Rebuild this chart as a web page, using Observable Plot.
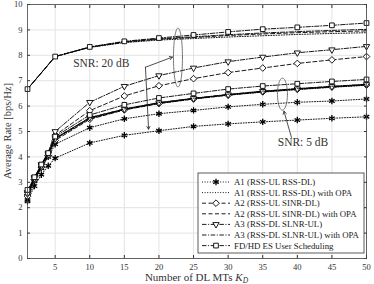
<!DOCTYPE html>
<html><head><meta charset="utf-8">
<script src="https://cdn.jsdelivr.net/npm/d3@7"></script>
<script src="https://cdn.jsdelivr.net/npm/@observablehq/plot@0.6"></script>
<style>body{margin:0;background:#fff} svg text{font-family:"Liberation Serif","Times New Roman",Times,"DejaVu Serif",serif !important}</style>
</head><body><div id="chart"></div>
<script>
// ---- data ----
const xDense  = [1,2,3,4,5,10,15,20,25,30,35,40,45,50];
const xSparse = [1,5,10,15,20,25,30,35,40,45,50];
const xTicks = [5,10,15,20,25,30,35,40,45,50];
const yTicks = [0,1,2,3,4,5,6,7,8,9,10];

// SNR 20 dB
const a1_20    = [2.25,2.85,3.3,3.65,3.95,4.55,4.85,5.03,5.2,5.3,5.38,5.45,5.52,5.58];
const a2_20    = [2.5,3.1,3.6,4.05,4.85,5.82,6.4,6.8,7.08,7.32,7.5,7.68,7.82,7.95];
const a3_20    = [2.6,3.2,3.7,4.15,5.0,6.15,6.78,7.2,7.5,7.75,7.93,8.1,8.22,8.35];
const fd_20    = [6.67,7.95,8.33,8.55,8.68,8.8,8.92,9.03,9.1,9.18,9.27];
const a1opa_20 = [6.67,7.95,8.31,8.5,8.6,8.66,8.72,8.77,8.82,8.86,8.89];
const a2opa_20 = [6.67,7.95,8.32,8.52,8.63,8.7,8.78,8.84,8.89,8.93,8.96];
const a3opa_20 = [6.67,7.95,8.32,8.53,8.65,8.73,8.81,8.88,8.93,8.98,9.02];
// SNR 5 dB
const a1_5     = [2.3,3.05,3.55,4.0,4.5,5.15,5.5,5.7,5.83,5.97,6.07,6.15,6.2,6.28];
const a2_5     = [2.45,3.1,3.6,4.05,4.65,5.48,5.85,6.1,6.28,6.43,6.56,6.66,6.75,6.83];
const a3_5     = [2.55,3.15,3.65,4.1,4.72,5.55,5.88,6.13,6.3,6.45,6.58,6.68,6.77,6.85];
const fd_5     = [2.7,3.2,3.7,4.15,4.8,5.65,6.05,6.32,6.5,6.67,6.79,6.88,6.97,7.05];
const a1opa_5  = [2.6,4.7,5.5,5.86,6.1,6.28,6.43,6.55,6.65,6.74,6.82];
const a2opa_5  = [2.6,4.72,5.52,5.87,6.12,6.3,6.45,6.57,6.67,6.76,6.84];
const a3opa_5  = [2.62,4.74,5.54,5.89,6.14,6.31,6.46,6.59,6.69,6.78,6.86];

const legendLabels = [
  "A1 (RSS-UL RSS-DL)",
  "A1 (RSS-UL RSS-DL) with OPA",
  "A2 (RSS-UL SINR-DL)",
  "A2 (RSS-UL SINR-DL) with OPA",
  "A3 (RSS-DL SLNR-UL)",
  "A3 (RSS-DL SLNR-UL) with OPA",
  "FD/HD ES User Scheduling"
];

// annotations
const annText = [{x:7.6, y:7.7, t:"SNR: 20 dB"},{x:37.17, y:4.59, t:"SNR: 5 dB"}];
const annArrows = [
  {x1:18.05,y1:7.53,x2:21.95,y2:7.93},
  {x1:18.05,y1:7.53,x2:18.5,y2:5.09},
  {x1:39.15,y1:4.77,x2:38.07,y2:5.8}
];
const annEllipses = [{cx:22.75,cy:7.91,rx:0.65,ry:1.16},{cx:37.85,cy:6.47,rx:0.72,ry:0.63}];

// ---- styles ----
const DOT = "1,1.6", DASH = "4,2.5", DASHDOT = "4.5,1.6,1,1.6";
const styles = [
  {dash:DOT, symbol:"asterisk"},
  {dash:DOT, symbol:null},
  {dash:DASH, symbol:"diamond2"},
  {dash:DASH, symbol:null},
  {dash:DASHDOT, symbol:"triangle2", rotate:180},
  {dash:DASHDOT, symbol:null},
  {dash:DASHDOT, symbol:"square2"}
];
const series = [
  {k:0, x:xDense, y:a1_20}, {k:1, x:xSparse, y:a1opa_20},
  {k:2, x:xDense, y:a2_20}, {k:3, x:xSparse, y:a2opa_20},
  {k:4, x:xDense, y:a3_20}, {k:5, x:xSparse, y:a3opa_20},
  {k:6, x:xSparse, y:fd_20},
  {k:0, x:xDense, y:a1_5}, {k:1, x:xSparse, y:a1opa_5},
  {k:2, x:xDense, y:a2_5}, {k:3, x:xSparse, y:a2opa_5},
  {k:4, x:xDense, y:a3_5}, {k:5, x:xSparse, y:a3opa_5},
  {k:6, x:xDense, y:fd_5}
];

const marks = [];
marks.push(Plot.gridX(xTicks, {stroke:"#e3e3e3", strokeOpacity:1}));
marks.push(Plot.gridY(yTicks, {stroke:"#e3e3e3", strokeOpacity:1}));
marks.push(Plot.axisX({ticks:xTicks, tickSize:0, tickPadding:5, label:null, fontSize:8.5}));
marks.push(Plot.axisX({ticks:xTicks, tickSize:-3, tickFormat:()=>"", label:null}));
marks.push(Plot.axisX({anchor:"top", ticks:xTicks, tickSize:-3, tickFormat:()=>"", label:null}));
marks.push(Plot.axisY({ticks:yTicks, tickSize:0, tickPadding:5, label:null, fontSize:8.5}));
marks.push(Plot.axisY({ticks:yTicks, tickSize:-3, tickFormat:()=>"", label:null}));
marks.push(Plot.axisY({anchor:"right", ticks:yTicks, tickSize:-3, tickFormat:()=>"", label:null}));

for (const s of series) {
  const st = styles[s.k];
  const pts = s.y.map((v,i)=>({x:s.x[i], y:v}));
  marks.push(Plot.line(pts, {x:"x", y:"y", stroke:"#000", strokeWidth:0.9, strokeDasharray:st.dash}));
  if (st.symbol) {
    marks.push(Plot.dot(pts, {x:"x", y:"y", symbol:st.symbol, r:3, rotate:st.rotate||0,
      stroke:"#000", strokeWidth: st.symbol==="asterisk"?1.3:0.9, fill: st.symbol==="asterisk"?"#000":"white"}));
  }
}
// annotations
for (const e of annEllipses) {
  const pts = d3.range(0, 361, 6).map(a => ({x:e.cx + e.rx*Math.cos(a*Math.PI/180), y:e.cy + e.ry*Math.sin(a*Math.PI/180)}));
  marks.push(Plot.line(pts, {x:"x", y:"y", stroke:"#555", strokeWidth:0.8}));
}
marks.push(Plot.arrow(annArrows, {x1:"x1", y1:"y1", x2:"x2", y2:"y2", stroke:"#222", strokeWidth:0.8, headLength:6, bend:false}));
marks.push(Plot.text(annText, {x:"x", y:"y", text:"t", textAnchor:"start", fontSize:11.5, fill:"#333"}));
marks.push(Plot.frame({stroke:"#444", strokeWidth:0.8}));

const svg = Plot.plot({
  width:374, height:284,
  marginLeft:27, marginRight:8, marginTop:4, marginBottom:26,
  style:{color:"#333", background:"#fff"},
  x:{domain:[1,50]},
  y:{domain:[0,10]},
  marks
});
document.getElementById("chart").appendChild(svg);

// axis titles
const s = d3.select(svg);
const xl = s.append("text").attr("x",196.5).attr("y",280.5).attr("text-anchor","middle")
  .attr("font-size",11).attr("fill","#333");
xl.append("tspan").text("Number of DL MTs ");
xl.append("tspan").attr("font-style","italic").text("K");
xl.append("tspan").attr("font-style","italic").attr("font-size",7.5).attr("dy",2).text("D");
s.append("text").attr("transform","translate(9,131) rotate(-90)").attr("text-anchor","middle")
  .attr("dominant-baseline","middle").attr("font-size",10.5).attr("fill","#333")
  .text("Average Rate [bps/Hz]");

// legend
const lg = s.append("g");
lg.append("rect").attr("x",198).attr("y",173).attr("width",166).attr("height",80)
  .attr("fill","#fff").attr("stroke","#333").attr("stroke-width",0.8);
legendLabels.forEach((lab,i)=>{
  const st = styles[i];
  const y = 182 + i*10.6;
  lg.append("line").attr("x1",202).attr("x2",230).attr("y1",y).attr("y2",y)
    .attr("stroke","#000").attr("stroke-width",0.9).attr("stroke-dasharray",st.dash);
  if (st.symbol) {
    const map = {asterisk:d3.symbolAsterisk, diamond2:d3.symbolDiamond2, triangle2:d3.symbolTriangle2, square2:d3.symbolSquare2};
    lg.append("path").attr("d", d3.symbol(map[st.symbol], Math.PI*9)())
      .attr("transform",`translate(216,${y}) rotate(${st.rotate||0})`)
      .attr("stroke","#000").attr("stroke-width", st.symbol==="asterisk"?1.3:0.9)
      .attr("fill", st.symbol==="asterisk"?"#000":"#fff");
  }
  lg.append("text").attr("x",234).attr("y",y+3).attr("text-anchor","start").attr("font-size",8.8)
    .attr("fill","#222").text(lab);
});
</script></body></html>
